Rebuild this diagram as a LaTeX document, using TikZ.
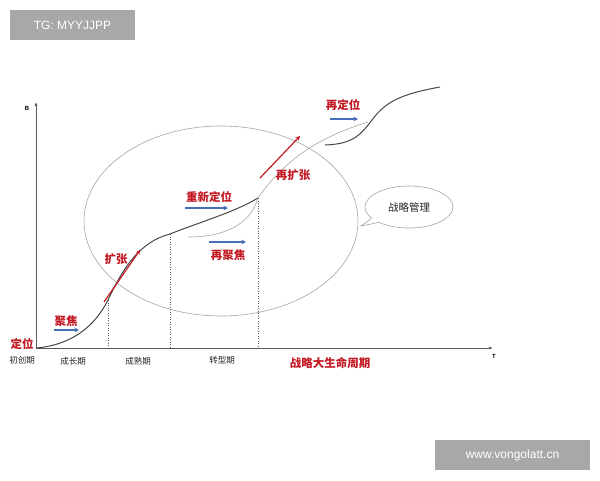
\documentclass[tikz,border=0pt]{standalone}
\usepackage{fontspec}
\setmainfont{Liberation Sans}
\newfontfamily\cjk{Noto Sans CJK SC}
\usetikzlibrary{arrows.meta,shapes.callouts}
\definecolor{lblred}{RGB}{195,25,35}
\definecolor{arrblue}{RGB}{70,110,185}
\definecolor{axisgray}{RGB}{90,90,90}
\definecolor{lightgray2}{RGB}{165,165,165}
\definecolor{wmgray}{RGB}{168,168,168}
\tikzset{
  redlbl/.style={text=lblred,font=\cjk\bfseries\fontsize{11.5}{12}\selectfont,inner sep=0pt},
  stagelbl/.style={text=black!85,font=\cjk\fontsize{8.5}{9}\selectfont,inner sep=0pt},
  bluearr/.style={draw=arrblue,line width=1.2pt,-{Stealth[length=4.5pt,width=4.5pt]}},
  redarr/.style={draw=lblred,line width=1.2pt,-{Stealth[length=4.5pt,width=4.5pt]}},
  axisline/.style={draw=axisgray,line width=0.7pt,-{Latex[length=4pt,width=3pt]}},
  guide/.style={draw=axisgray,dotted,line width=0.5pt},
  thincurve/.style={draw=lightgray2,line width=0.6pt},
  maincurve/.style={draw=axisgray!80!black,line width=1pt},
  wmbox/.style={fill=wmgray,text=white,font=\fontsize{12}{14}\selectfont,inner xsep=8pt,inner ysep=6pt}
}
\begin{document}
\begin{tikzpicture}[x=1pt,y=-1pt]
\useasboundingbox (0,0) rectangle (600,480);
\fill[white] (0,0) rectangle (600,480);
% watermarks
\node[wmbox,minimum width=125pt,minimum height=30pt] (wm1) at (72.5,25) {TG: MYYJJPP};
\node[wmbox,minimum width=155pt,minimum height=30pt] (wm2) at (512.5,455) {www.vongolatt.cn};
% axes
\coordinate (O) at (36,348);
\coordinate (Ytop) at (36,102);
\coordinate (Xend) at (493,348);
\draw[axisline] (O) -- (Ytop);
\draw[axisline] (O) -- (Xend);
\node[font=\bfseries\fontsize{6}{7}\selectfont,inner sep=0pt] (B) at (27,108) {B};
\node[font=\bfseries\fontsize{6}{7}\selectfont,inner sep=0pt] (T) at (494,356) {T};
% big ellipse
\draw[draw=lightgray2,line width=0.6pt] (221,221) ellipse [x radius=137, y radius=95];
% guides
\coordinate (g1t) at (108,300); \coordinate (g1b) at (108,348);
\coordinate (g2t) at (170,234); \coordinate (g2b) at (170,348);
\coordinate (g3t) at (258,198); \coordinate (g3b) at (258,348);
\draw[guide] (g1t) -- (g1b);
\draw[guide] (g2t) -- (g2b);
\draw[guide] (g3t) -- (g3b);
% main curve
\draw[maincurve] (O) .. controls (72,345) and (95,326) .. (g1t)
  .. controls (124,266) and (140,242) .. (g2t)
  .. controls (200,222) and (235,212) .. (g3t);
% thin curves
\coordinate (rf) at (188,237);
\draw[thincurve] (g3t) .. controls (250,226) and (222,237) .. (rf);
\coordinate (jn) at (368,122);
\draw[thincurve] (g3t) .. controls (290,152) and (330,134) .. (jn);
% second curve
\coordinate (c2s) at (325,145);
\coordinate (c2e) at (440,87);
\draw[maincurve] (c2s) .. controls (352,144) and (360,136) .. (372,120)
  .. controls (386,101) and (402,94) .. (c2e);
% callout
\node[ellipse callout,draw=lightgray2,line width=0.6pt,minimum width=88pt,minimum height=42pt,
  callout absolute pointer={(361,226)},font=\cjk\fontsize{10.5}{11}\selectfont,text=black!85] (cb) at (409,207) {战略管理};
% labels & arrows
\node[redlbl] (dw) at (22,344) {定位};
\node[redlbl] (jj) at (66,321) {聚焦};
\coordinate (a1s) at (54,330); \coordinate (a1e) at (79,330);
\draw[bluearr] (a1s) -- (a1e);
\node[redlbl] (kz) at (116,259) {扩张};
\coordinate (a2s) at (104,302); \coordinate (a2e) at (140,250);
\draw[redarr] (a2s) -- (a2e);
\node[redlbl] (cxdw) at (209,197) {重新定位};
\coordinate (a3s) at (185,208); \coordinate (a3e) at (228,208);
\draw[bluearr] (a3s) -- (a3e);
\node[redlbl] (zjj) at (228,255) {再聚焦};
\coordinate (a4s) at (209,242); \coordinate (a4e) at (246,242);
\draw[bluearr] (a4s) -- (a4e);
\node[redlbl] (zkz) at (293,175) {再扩张};
\coordinate (a5s) at (260,178); \coordinate (a5e) at (300,136);
\draw[redarr] (a5s) -- (a5e);
\node[redlbl] (zdw) at (343,105) {再定位};
\coordinate (a6s) at (330,119); \coordinate (a6e) at (358,119);
\draw[bluearr] (a6s) -- (a6e);
% stage labels
\node[stagelbl] (s1) at (22,360) {初创期};
\node[stagelbl] (s2) at (73,361) {成长期};
\node[stagelbl] (s3) at (138,361) {成熟期};
\node[stagelbl] (s4) at (222,360) {转型期};
\node[redlbl] (life) at (330,363) {战略大生命周期};
\end{tikzpicture}
\end{document}
